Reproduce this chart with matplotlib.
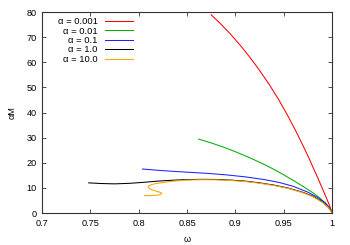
import matplotlib
matplotlib.use("Agg")
import matplotlib.pyplot as plt

plt.rcParams['font.family'] = ['Liberation Sans', 'DejaVu Sans']

labels = ["α = 0.001", "α = 0.01", "α = 0.1", "α = 1.0", "α = 10.0"]
colors = ["#ff0000", "#00b000", "#2020ff", "#000000", "#ffa500"]

w_0001 = [0.875, 0.885, 0.895, 0.905, 0.915, 0.925, 0.935, 0.945, 0.955, 0.965, 0.975, 0.985, 0.992, 0.997, 1.0]
m_0001 = [78.9, 75.2, 71.2, 66.8, 62.0, 56.8, 51.2, 45.0, 38.2, 30.8, 22.8, 14.2, 8.0, 3.4, 0.3]

w_001 = [0.862, 0.87, 0.88, 0.89, 0.90, 0.91, 0.92, 0.93, 0.94, 0.95, 0.96, 0.97, 0.98, 0.987, 0.993, 0.997, 1.0]
m_001 = [29.4, 28.5, 27.25, 25.9, 24.4, 22.8, 21.1, 19.3, 17.35, 15.2, 12.95, 10.6, 8.1, 6.1, 4.0, 2.2, 0.3]

w_01 = [0.804, 0.82, 0.835, 0.85, 0.87, 0.89, 0.91, 0.93, 0.945, 0.96, 0.975, 0.985, 0.993, 0.997, 1.0]
m_01 = [17.5, 17.0, 16.6, 16.25, 15.8, 15.2, 14.4, 13.3, 12.2, 10.6, 8.3, 6.2, 4.0, 2.3, 0.3]

w_1 = [0.7483, 0.76, 0.775, 0.79, 0.805, 0.82, 0.835, 0.85, 0.865, 0.88, 0.895, 0.91, 0.925,
       0.94, 0.955, 0.97, 0.98, 0.99, 0.996, 1.0]
m_1 = [12.0, 11.75, 11.6, 11.8, 12.2, 12.7, 13.05, 13.3, 13.4, 13.35, 13.1, 12.7, 12.0,
       11.1, 9.9, 8.2, 6.7, 4.4, 2.4, 0.3]

w_10 = [0.806, 0.812, 0.818, 0.822, 0.8238, 0.823, 0.820, 0.8155, 0.8115, 0.8098, 0.8108, 0.814,
        0.819, 0.825, 0.8307, 0.84, 0.85, 0.865, 0.88, 0.895, 0.91, 0.925, 0.94, 0.955, 0.97,
        0.98, 0.99, 0.996, 1.0]
m_10 = [6.9, 6.95, 7.05, 7.3, 7.7, 8.1, 8.5, 9.0, 9.6, 10.3, 10.9, 11.4,
        11.8, 12.1, 12.45, 12.8, 13.1, 13.25, 13.2, 12.95, 12.55, 11.85, 10.95, 9.75, 8.05,
        6.55, 4.25, 2.3, 0.2]

series = [(w_0001, m_0001), (w_001, m_001), (w_01, m_01), (w_1, m_1), (w_10, m_10)]

fig = plt.figure(figsize=(3.5, 2.45), dpi=100)
ax = fig.add_axes([0.12, 0.1306, 0.8286, 0.8204])

for (w, m), c, lab in zip(series, colors, labels):
    ax.plot(w, m, color=c, lw=0.75, label=lab)

ax.set_xlim(0.7, 1.0)
ax.set_ylim(0, 80)
ax.set_xticks([0.7, 0.75, 0.8, 0.85, 0.9, 0.95, 1.0])
ax.set_xticklabels(["0.7", "0.75", "0.8", "0.85", "0.9", "0.95", "1"])
ax.set_yticks(range(0, 81, 10))
ax.tick_params(direction='in', length=3, width=0.6, top=True, right=True,
               labelsize=6.6, pad=4, colors='#333333', labelcolor='black')
for s in ax.spines.values():
    s.set_linewidth(0.8)
    s.set_color('#333333')

ax.set_xlabel("ω", fontsize=6.6, labelpad=5)
ax.set_ylabel("αM", fontsize=6.6, labelpad=7)

leg = ax.legend(loc='upper right', bbox_to_anchor=(0.315, 0.975), frameon=False,
                markerfirst=False, fontsize=6.8, handlelength=3.0, handletextpad=0.8,
                labelspacing=0.05, borderpad=0, borderaxespad=0)

fig.savefig("out.png", dpi=100)
